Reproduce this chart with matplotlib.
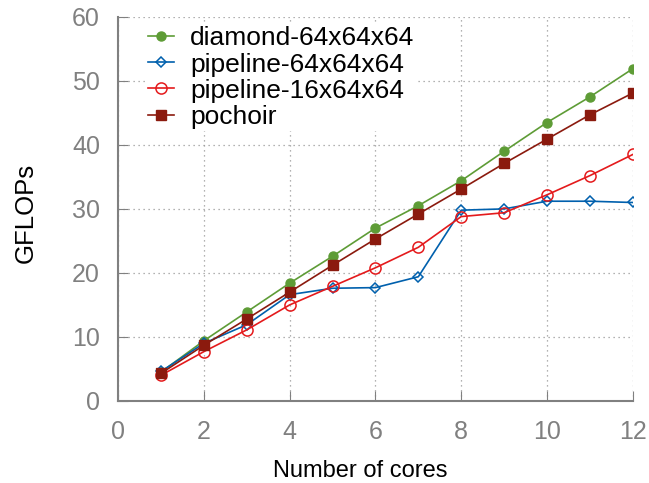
import numpy as np
import matplotlib

matplotlib.use("Agg")
import matplotlib.pyplot as plt

plt.rcParams["font.family"] = ["Liberation Sans", "DejaVu Sans"]

cores = [1, 2, 3, 4, 5, 6, 7, 8, 9, 10, 11, 12]
diamond_64 = [4.5, 9.4, 13.9, 18.4, 22.6, 27.0, 30.5, 34.4, 39.0, 43.5, 47.5, 51.9]
pipeline_64 = [4.6, 9.0, 11.9, 16.6, 17.6, 17.7, 19.4, 29.8, 30.0, 31.2, 31.2, 31.0]
pipeline_16 = [4.0, 7.7, 11.1, 15.0, 17.9, 20.8, 24.0, 28.8, 29.4, 32.2, 35.2, 38.5]
pochoir = [4.3, 8.7, 12.8, 17.0, 21.2, 25.3, 29.2, 33.1, 37.1, 40.9, 44.7, 48.1]

fig = plt.figure(figsize=(6.49, 4.83), dpi=100)
ax = fig.add_axes([0.182, 0.170, 0.793, 0.795])

ax.plot(cores, diamond_64, color="#5e9c36", marker="o", markersize=6.5,
        linewidth=1.2, label="diamond-64x64x64")
ax.plot(cores, pipeline_64, color="#0060ad", marker="D", markersize=5,
        markerfacecolor="none", markeredgewidth=1.1, linewidth=1.2,
        label="pipeline-64x64x64")
ax.plot(cores, pipeline_16, color="#e41a1c", marker="o", markersize=8,
        markerfacecolor="none", markeredgewidth=1.1, linewidth=1.2,
        label="pipeline-16x64x64")
ax.plot(cores, pochoir, color="#8b1a0e", marker="s", markersize=7.5,
        linewidth=1.2, label="pochoir")

ax.set_xlim(0, 12)
ax.set_ylim(0, 60)
ax.set_xticks(np.arange(0, 13, 2))
ax.set_yticks(np.arange(0, 61, 10))
ax.tick_params(direction="in", length=7, color="#808080", labelsize=18,
               labelcolor="#808080")
ax.tick_params(axis="x", pad=14)
ax.tick_params(axis="y", pad=13)
ax.grid(True, linestyle=(0, (1, 3)), color="#999999", linewidth=0.9)
ax.set_axisbelow(True)
for side in ["top", "right"]:
    ax.spines[side].set_visible(False)
for side in ["left", "bottom"]:
    ax.spines[side].set_color("#808080")
    ax.spines[side].set_linewidth(1.5)

ax.set_xlabel("Number of cores", fontsize=17)
ax.xaxis.set_label_coords(0.47, -0.155)
ax.set_ylabel("GFLOPs", fontsize=18.5)
ax.yaxis.set_label_coords(-0.157, 0.49)

leg = ax.legend(loc="upper left", bbox_to_anchor=(0.053, 0.982), fontsize=19,
                frameon=True, framealpha=1, edgecolor="none",
                handlelength=1.0, handletextpad=0.6, labelspacing=0.08,
                borderpad=0.1, borderaxespad=0)
leg.get_frame().set_linewidth(0)

fig.savefig("out.png", dpi=100)
